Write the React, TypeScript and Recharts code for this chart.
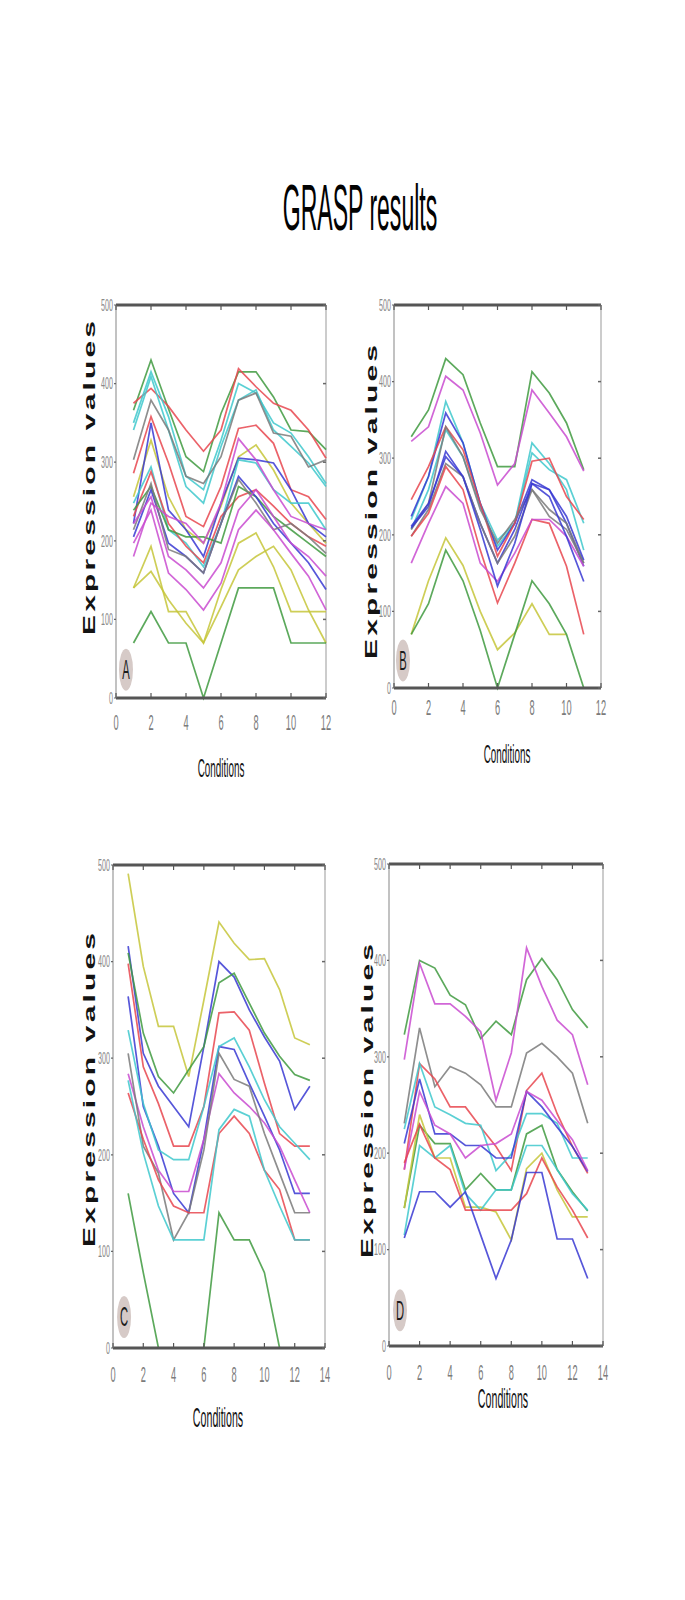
import React from 'react';
import { LineChart, Line, XAxis, YAxis, ReferenceLine, ReferenceDot } from 'recharts';

// line colours (matlab-ish)
const GREEN = '#3f9a3f';
const RED = '#e8474f';
const CYAN = '#3ec8cc';
const GREY = '#7a7a7a';
const BLUE = '#3838d2';
const MAGENTA = '#c94bd0';
const YELLOW = '#c6c63a';

const FONT = '"Liberation Sans", Arial, sans-serif';

const yTicks = [0, 100, 200, 300, 400, 500];
const xTicks12 = [0, 2, 4, 6, 8, 10, 12];
const xTicks14 = [0, 2, 4, 6, 8, 10, 12, 14];

// Panel A : 12 conditions
const conditionsA = [1, 2, 3, 4, 5, 6, 7, 8, 9, 10, 11, 12];
const valuesA = [
  [366, 430, 368, 307, 288, 362, 415, 415, 383, 341, 339, 316],
  [375, 394, 371, 341, 314, 341, 419, 396, 375, 366, 341, 305],
  [350, 415, 358, 282, 265, 328, 400, 388, 350, 337, 307, 273],
  [341, 409, 341, 269, 248, 320, 379, 392, 341, 320, 299, 269],
  [303, 379, 341, 282, 273, 307, 379, 388, 337, 333, 294, 303],
  [286, 358, 299, 231, 218, 269, 343, 347, 324, 265, 256, 227],
  [256, 328, 256, 214, 197, 244, 307, 322, 290, 248, 222, 197],
  [222, 350, 239, 214, 180, 248, 305, 303, 299, 265, 222, 205],
  [248, 294, 214, 197, 167, 222, 303, 299, 265, 248, 248, 214],
  [231, 288, 222, 193, 172, 231, 256, 265, 244, 222, 205, 193],
  [239, 269, 214, 205, 205, 197, 269, 256, 231, 214, 197, 180],
  [205, 265, 197, 180, 159, 222, 282, 256, 222, 197, 172, 138],
  [214, 273, 189, 180, 159, 222, 278, 248, 214, 222, 205, 184],
  [180, 248, 231, 222, 197, 248, 330, 303, 265, 231, 222, 214],
  [197, 239, 159, 138, 112, 146, 214, 239, 214, 184, 155, 112],
  [222, 256, 180, 163, 140, 172, 239, 265, 231, 197, 180, 155],
  [140, 193, 110, 110, 70, 138, 197, 210, 167, 110, 110, 110],
  [140, 161, 125, 95, 70, 116, 163, 180, 193, 163, 112, 70],
  [70, 110, 70, 70, 0, 70, 140, 140, 140, 70, 70, 70],
];
const coloursA = [GREEN, RED, CYAN, CYAN, GREY, RED, YELLOW, BLUE, CYAN, RED, GREEN, BLUE, GREY, MAGENTA, MAGENTA, MAGENTA, YELLOW, YELLOW, GREEN];

// Panel B : 11 conditions
const conditionsB = [1, 2, 3, 4, 5, 6, 7, 8, 9, 10, 11];
const valuesB = [
  [328, 363, 430, 409, 346, 289, 289, 413, 385, 346, 285],
  [322, 341, 407, 389, 333, 265, 293, 389, 359, 328, 283],
  [220, 276, 374, 320, 241, 193, 215, 307, 285, 272, 215],
  [207, 259, 337, 302, 237, 185, 215, 320, 293, 259, 180],
  [224, 276, 359, 320, 241, 180, 215, 272, 259, 215, 159],
  [246, 289, 341, 311, 241, 172, 215, 296, 300, 250, 220],
  [207, 241, 341, 302, 233, 189, 220, 259, 233, 215, 163],
  [209, 237, 309, 276, 215, 163, 207, 267, 259, 224, 167],
  [198, 233, 293, 276, 215, 163, 198, 259, 224, 207, 163],
  [198, 228, 289, 259, 180, 111, 163, 220, 215, 159, 70],
  [163, 215, 263, 241, 163, 139, 176, 220, 220, 198, 159],
  [211, 241, 302, 276, 207, 133, 189, 267, 250, 198, 139],
  [70, 140, 196, 160, 100, 50, 72, 110, 70, 70, null],
  [70, 110, 180, 140, 75, 0, 70, 140, 110, 70, 0],
];
const coloursB = [GREEN, MAGENTA, CYAN, CYAN, BLUE, RED, GREY, BLUE, GREY, RED, MAGENTA, BLUE, YELLOW, GREEN];

// Panel C : 13 conditions
const conditionsC = [1, 2, 3, 4, 5, 6, 7, 8, 9, 10, 11, 12, 13];
const valuesC = [
  [491, 395, 333, 333, 281, 360, 441, 419, 402, 403, 371, 321, 314],
  [416, 305, 271, 250, 229, 312, 400, 384, 350, 322, 297, 247, 271],
  [409, 326, 281, 264, 288, 312, 378, 388, 357, 326, 302, 283, 277],
  [398, 291, 253, 209, 209, 250, 347, 348, 329, 274, 222, 209, 209],
  [364, 250, 209, 160, 140, 216, 312, 309, 274, 240, 205, 160, 160],
  [329, 253, 205, 195, 195, 250, 312, 321, 291, 257, 229, 212, 195],
  [284, 229, 184, 162, 162, 216, 284, 264, 250, 233, 209, 174, 140],
  [305, 209, 181, 112, 140, 205, 305, 278, 271, 222, 181, 140, 140],
  [264, 216, 174, 147, 140, 140, 222, 240, 222, 184, 164, 112, 112],
  [277, 202, 147, 112, 112, 112, 226, 247, 240, 184, 147, 112, 112],
  [160, 78, 0, 0, 0, 0, 140, 112, 112, 78, 0, 0, 0],
];
const coloursC = [YELLOW, BLUE, GREEN, RED, BLUE, CYAN, MAGENTA, GREY, RED, CYAN, GREEN];

// Panel D : 13 conditions
const conditionsD = [1, 2, 3, 4, 5, 6, 7, 8, 9, 10, 11, 12, 13];
const valuesD = [
  [323, 400, 392, 364, 354, 319, 337, 323, 380, 402, 380, 349, 330],
  [297, 397, 355, 355, 342, 326, 255, 304, 413, 373, 338, 323, 271],
  [231, 330, 269, 290, 283, 271, 248, 248, 304, 314, 300, 283, 231],
  [183, 293, 277, 248, 248, 227, 207, 182, 265, 283, 241, 207, 179],
  [225, 293, 248, 240, 231, 229, 182, 199, 241, 241, 231, 195, 195],
  [210, 277, 220, 220, 208, 208, 195, 195, 264, 248, 227, 207, 181],
  [183, 264, 229, 220, 195, 208, 210, 220, 264, 255, 234, 214, 182],
  [143, 229, 210, 210, 162, 179, 162, 162, 220, 229, 183, 160, 140],
  [143, 240, 195, 195, 144, 144, 139, 110, 184, 200, 162, 134, 134],
  [115, 208, 195, 208, 158, 141, 162, 162, 208, 208, 183, 158, 141],
  [190, 230, 195, 183, 141, 141, 141, 141, 158, 195, 165, 141, 112],
  [112, 160, 160, 144, 160, 115, 70, 110, 180, 180, 111, 111, 70],
];
const coloursD = [GREEN, MAGENTA, GREY, RED, CYAN, BLUE, MAGENTA, GREEN, YELLOW, CYAN, RED, BLUE];

const toRows = (xs: number[], values: (number | null)[][]) =>
  xs.map((x, i) => {
    const row: Record<string, number | null> = { x };
    values.forEach((v, k) => {
      row['s' + k] = v[i] ?? null;
    });
    return row;
  });

// space around the plot box inside each chart
const ML = 100;
const MT = 10;
const MR = 10;
const MB = 100;

type Box = { left: number; top: number; width: number; height: number };

type PanelProps = {
  xs: number[];
  values: (number | null)[][];
  colours: string[];
  box: Box;
  xMax: number;
  xTicks: number[];
  letter: string;
  badge: [number, number];
  xTickDy: number;
  yTitle: [number, number];
  xTitle: [number, number];
  xTitleSize: number;
};

const XTick = (p: any) => {
  const { x, y, payload, plotH, dy } = p;
  return (
    <g opacity={0.99}>
      <line x1={x} y1={y} x2={x} y2={y - 5} stroke="#555" strokeWidth={1.2} />
      <line x1={x} y1={y - plotH} x2={x} y2={y - plotH + 5} stroke="#555" strokeWidth={1.2} />
      <text
        transform={`translate(${x},${y + dy}) scale(0.42,1)`}
        textAnchor="middle"
        dominantBaseline="central"
        fontSize={22}
        fontFamily={FONT}
        fill="#7a7a7a"
      >
        {payload.value}
      </text>
    </g>
  );
};

const YTick = (p: any) => {
  const { x, y, payload, plotW } = p;
  return (
    <g opacity={0.99}>
      <line x1={x - 2} y1={y} x2={x} y2={y} stroke="#666" strokeWidth={1.2} />
      <line x1={x + plotW - 3} y1={y} x2={x + plotW} y2={y} stroke="#666" strokeWidth={1.5} />
      <text
        transform={`translate(${x - 3},${y}) scale(0.42,1)`}
        textAnchor="end"
        dominantBaseline="central"
        fontSize={17}
        fontFamily={FONT}
        fill="#888"
      >
        {payload.value}
      </text>
    </g>
  );
};

function Panel({ xs, values, colours, box, xMax, xTicks, letter, badge, xTickDy, yTitle, xTitle, xTitleSize }: PanelProps) {
  const rows = toRows(xs, values);
  const ox = box.left - ML;
  const oy = box.top - MT;
  return (
    <div style={{ position: 'absolute', left: ox, top: oy }}>
      <LineChart
        width={box.width + ML + MR}
        height={box.height + MT + MB}
        data={rows}
        margin={{ top: MT, right: MR, left: 0, bottom: 0 }}
      >
        <XAxis
          dataKey="x"
          type="number"
          domain={[0, xMax]}
          ticks={xTicks}
          height={MB}
          tickSize={0}
          tickMargin={0}
          tickLine={false}
          axisLine={{ stroke: '#555', strokeWidth: 3 }}
          tick={(p: any) => <XTick {...p} plotH={box.height} dy={xTickDy} />}
          label={{
            content: () => (
              <text
                transform={`translate(${xTitle[0] - ox},${xTitle[1] - oy}) scale(0.38,1)`}
                textAnchor="middle"
                dominantBaseline="central"
                fontSize={xTitleSize}
                fontFamily={FONT}
                fill="#111"
                opacity={0.99}
              >
                Conditions
              </text>
            ),
          }}
        />
        <YAxis
          type="number"
          domain={[0, 500]}
          ticks={yTicks}
          width={ML}
          tickSize={0}
          tickMargin={0}
          tickLine={false}
          axisLine={{ stroke: '#999', strokeWidth: 1.2 }}
          tick={(p: any) => <YTick {...p} plotW={box.width} />}
          label={{
            content: () => (
              <text
                transform={`translate(${yTitle[0] - ox},${yTitle[1] - oy}) rotate(-90) scale(2,1.05)`}
                textAnchor="middle"
                dominantBaseline="central"
                fontSize={15}
                fontWeight={700}
                fontFamily={FONT}
                textLength={157}
                lengthAdjust="spacing"
                fill="#111"
                opacity={0.99}
              >
                Expression values
              </text>
            ),
          }}
        />
        <ReferenceLine y={500} stroke="#555" strokeWidth={3} />
        <ReferenceLine x={xMax} stroke="#aaa" strokeWidth={1.2} />
        {values.map((_, k) => (
          <Line
            key={k}
            dataKey={'s' + k}
            stroke={colours[k]}
            strokeWidth={1.7}
            strokeOpacity={0.85}
            dot={false}
            activeDot={false}
            connectNulls={false}
            isAnimationActive={false}
          />
        ))}
        <ReferenceDot
          x={badge[0]}
          y={badge[1]}
          r={6}
          isFront
          shape={(p: any) => (
            <g opacity={0.99}>
              <ellipse cx={p.cx} cy={p.cy} rx={7} ry={21} fill="#d6cac7" />
              <text
                transform={`translate(${p.cx},${p.cy}) scale(0.4,1)`}
                textAnchor="middle"
                dominantBaseline="central"
                fontSize={28}
                fontFamily={FONT}
                fill="#1a1a1a"
              >
                {letter}
              </text>
            </g>
          )}
        />
      </LineChart>
    </div>
  );
}

export default function App() {
  return (
    <div style={{ position: 'absolute', left: 0, top: 0, width: 685, height: 1600, background: '#fff' }}>
      <svg width={685} height={260} style={{ position: 'absolute', left: 0, top: 0 }}>
        <text
          transform="translate(360,230) scale(0.36,1)"
          textAnchor="middle"
          fontSize={64}
          fontFamily={FONT}
          fill="#000"
          opacity={0.99}
        >
          GRASP results
        </text>
      </svg>
      <Panel
        xs={conditionsA}
        values={valuesA}
        colours={coloursA}
        box={{ left: 116, top: 305, width: 210, height: 393 }}
        xMax={12}
        xTicks={xTicks12}
        letter="A"
        badge={[0.57, 36]}
        xTickDy={25}
        yTitle={[89, 478]}
        xTitle={[221, 768]}
        xTitleSize={26}
      />
      <Panel
        xs={conditionsB}
        values={valuesB}
        colours={coloursB}
        box={{ left: 394, top: 305, width: 207, height: 383 }}
        xMax={12}
        xTicks={xTicks12}
        letter="B"
        badge={[0.52, 36]}
        xTickDy={20}
        yTitle={[371, 502]}
        xTitle={[507, 754]}
        xTitleSize={26}
      />
      <Panel
        xs={conditionsC}
        values={valuesC}
        colours={coloursC}
        box={{ left: 113, top: 865, width: 212, height: 483 }}
        xMax={14}
        xTicks={xTicks14}
        letter="C"
        badge={[0.73, 32]}
        xTickDy={27}
        yTitle={[89, 1090]}
        xTitle={[218, 1417]}
        xTitleSize={28}
      />
      <Panel
        xs={conditionsD}
        values={valuesD}
        colours={coloursD}
        box={{ left: 389, top: 864, width: 214, height: 482 }}
        xMax={14}
        xTicks={xTicks14}
        letter="D"
        badge={[0.72, 37]}
        xTickDy={27}
        yTitle={[367, 1101]}
        xTitle={[503, 1398]}
        xTitleSize={28}
      />
    </div>
  );
}
